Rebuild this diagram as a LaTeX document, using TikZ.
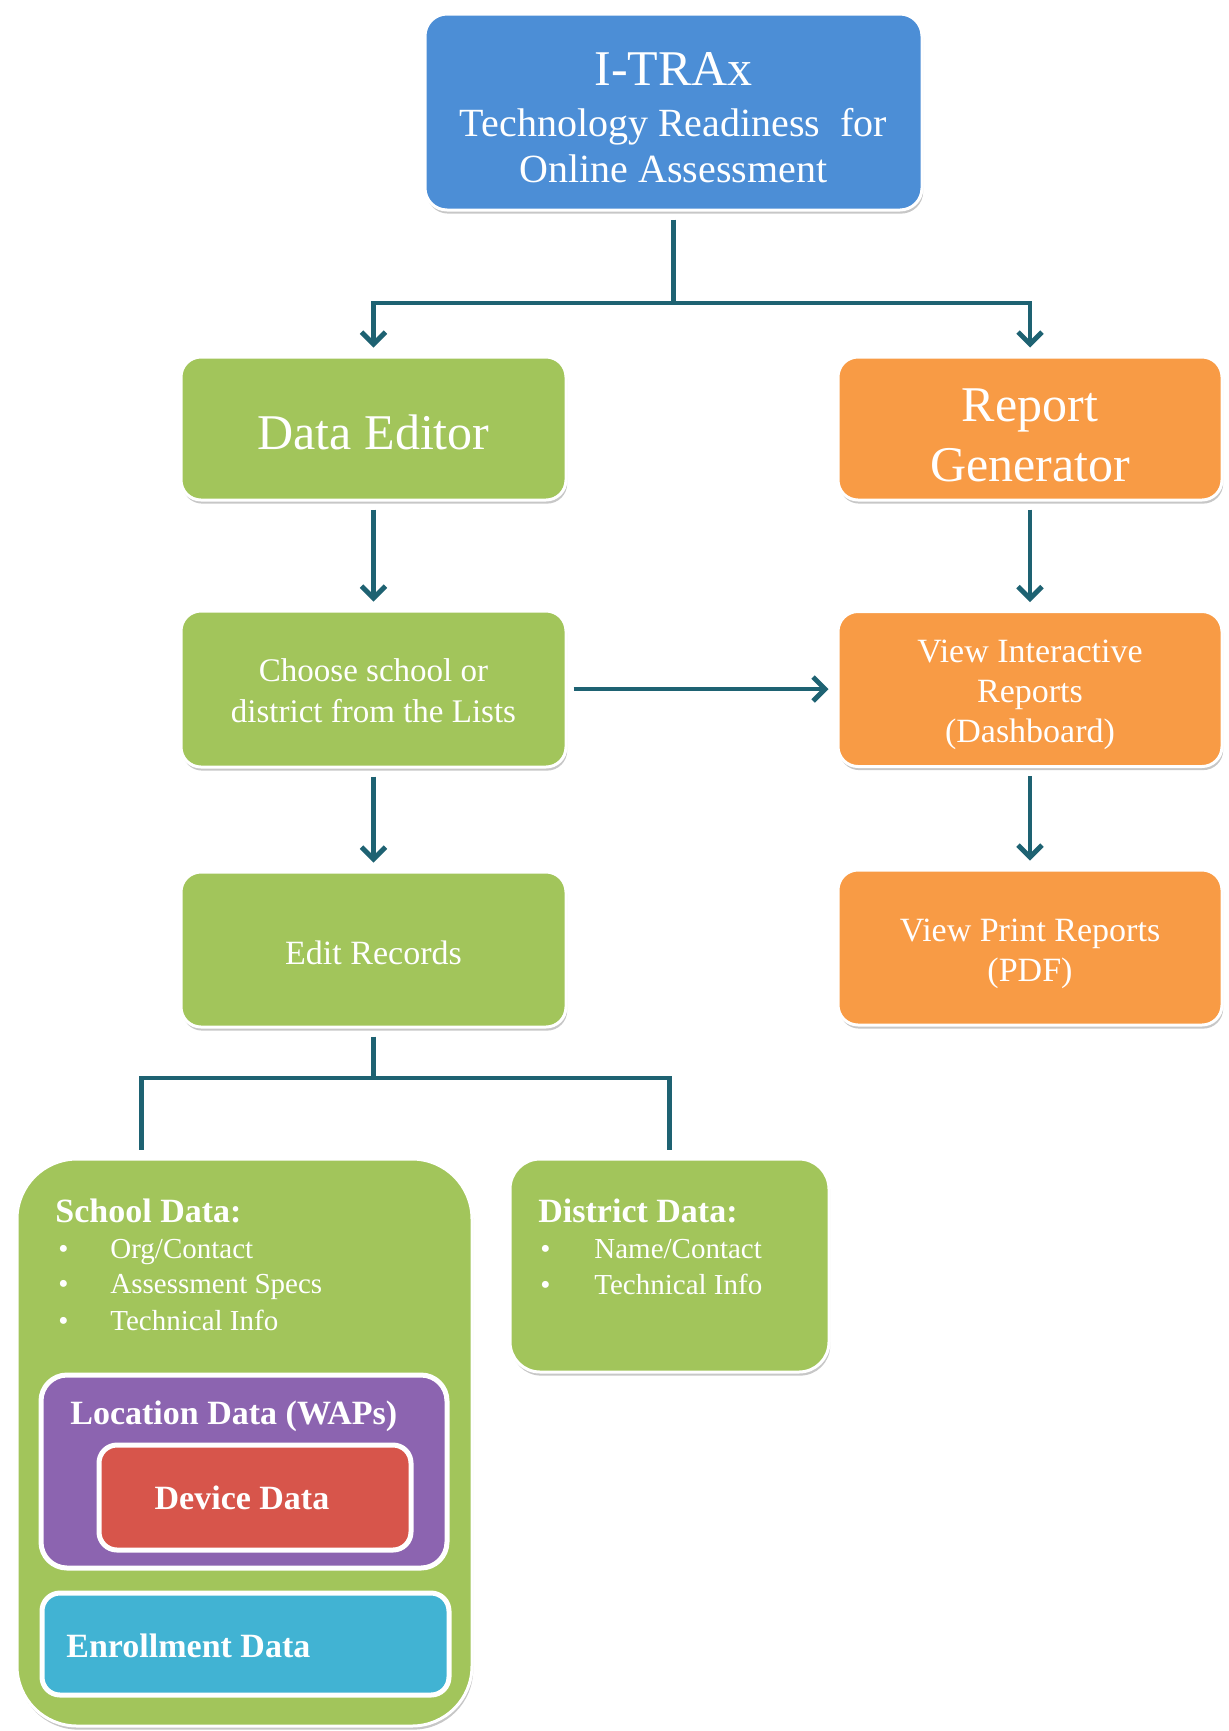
\documentclass[tikz,border=0pt]{standalone}
\usepackage{fontspec}
\setmainfont{Liberation Serif}
\usetikzlibrary{arrows.meta,shadows}
\definecolor{cblue}{HTML}{4C8ED6}
\definecolor{cgreen}{HTML}{A2C55B}
\definecolor{corange}{HTML}{F89B45}
\definecolor{cpurple}{HTML}{8C64B0}
\definecolor{cred}{HTML}{D7554B}
\definecolor{ccyan}{HTML}{41B3D3}
\definecolor{cline}{HTML}{1E6272}
\tikzset{
  box/.style={rectangle, rounded corners=10pt, draw=white, line width=1.5pt,
    inner sep=0pt,
    drop shadow={shadow xshift=0.6pt, shadow yshift=-1.8pt, opacity=0.22, fill=black}},
  bluebox/.style={box, fill=cblue},
  greenbox/.style={box, fill=cgreen},
  orangebox/.style={box, fill=corange},
  boxtext/.style={text=white, align=center, inner sep=0pt},
  innerbox/.style={rectangle, rounded corners=9pt, draw=white, line width=2.5pt, inner sep=0pt},
  conn/.style={draw=cline, line width=2.4pt},
  arr/.style={conn, -{Straight Barb[length=6pt,width=12pt]}, shorten >=4pt, shorten <=4pt},
  ttl/.style={anchor=base west, text=white, font=\fontsize{17}{20}\selectfont\bfseries, inner sep=0pt},
  itm/.style={anchor=base west, text=white, font=\fontsize{14.5}{17}\selectfont, inner sep=0pt},
}
\begin{document}
\begin{tikzpicture}[x=0.5pt,y=-0.5pt]
\useasboundingbox (0,0) rectangle (1229,1731);
\fill[white] (0,0) rectangle (1229,1731);

% top box
\node[bluebox, minimum width=248.5pt, minimum height=98pt, rounded corners=11pt] (top) at (673.5,112) {};
\node[boxtext, font=\fontsize{20}{23}\selectfont] (toptext) at ([yshift=-3pt]top.center)
  {{\fontsize{25}{25}\selectfont I-TRAx}\\[2.5pt]Technology Readiness\ \ for\\Online Assessment};

% left column
\node[greenbox, minimum width=192.5pt, minimum height=71.5pt] (de) at (373.5,428.5) {};
\node[boxtext, font=\fontsize{25}{30}\selectfont] (det) at ([yshift=-2pt]de.center) {Data Editor};
\node[greenbox, minimum width=192.5pt, minimum height=78pt] (choose) at (373.5,689) {};
\node[boxtext, font=\fontsize{16.5}{20.5}\selectfont] (chooset) at ([yshift=-1pt]choose.center)
  {Choose school or\\district from the Lists};
\node[greenbox, minimum width=192.5pt, minimum height=77.5pt] (edit) at (373.5,949.5) {};
\node[boxtext, font=\fontsize{17}{20}\selectfont] (editt) at ([yshift=-1.5pt]edit.center) {Edit Records};

% right column
\node[orangebox, minimum width=192pt, minimum height=71.5pt] (rg) at (1030,428.5) {};
\node[boxtext, font=\fontsize{25}{30}\selectfont] (rgt) at ([yshift=-3.3pt]rg.center) {Report\\Generator};
\node[orangebox, minimum width=192pt, minimum height=77.5pt] (vir) at (1030,689) {};
\node[boxtext, font=\fontsize{17}{20}\selectfont] (virt) at ([yshift=-3pt]vir.center)
  {View Interactive\\Reports\\(Dashboard)};
\node[orangebox, minimum width=192pt, minimum height=77.5pt] (vpr) at (1030,947.5) {};
\node[boxtext, font=\fontsize{17}{20}\selectfont] (vprt) at ([yshift=-3pt]vpr.center)
  {View Print Reports\\(PDF)};

% school data container
\node[greenbox, minimum width=227.5pt, minimum height=283.5pt, rounded corners=30pt]
  (school) at (244.5,1442.5) {};
\node[ttl] (stitle) at (55,1222) {School Data:};
\node[itm] (sb1) at (58,1258) {•};
\node[itm] (si1) at (110,1258) {Org/Contact};
\node[itm] (sb2) at (58,1293) {•};
\node[itm] (si2) at (110,1293) {Assessment Specs};
\node[itm] (sb3) at (58,1330) {•};
\node[itm] (si3) at (110,1330) {Technical Info};

\node[innerbox, fill=cpurple, minimum width=203pt, minimum height=96.5pt, rounded corners=13pt]
  (loc) at (244,1471.5) {};
\node[ttl] (ltitle) at (70,1424) {Location Data (WAPs)};
\node[innerbox, fill=cred, minimum width=156pt, minimum height=52.5pt,
      text=white, font=\fontsize{17}{20}\selectfont\bfseries] (dev) at (255,1497.5)
  {\hspace*{-13pt}Device Data};

\node[innerbox, fill=ccyan, minimum width=203.5pt, minimum height=51pt] (enr) at (245.5,1644) {};
\node[ttl] (etitle) at (66,1657) {Enrollment Data};

% district data
\node[greenbox, minimum width=159.5pt, minimum height=106.5pt, rounded corners=15pt]
  (district) at (669.5,1265.5) {};
\node[ttl] (dtitle) at (538,1222) {District Data:};
\node[itm] (db1) at (540,1258) {•};
\node[itm] (di1) at (594,1258) {Name/Contact};
\node[itm] (db2) at (540,1294) {•};
\node[itm] (di2) at (594,1294) {Technical Info};

% connectors
\coordinate (split) at (top.south |- 0,303);
\draw[conn, shorten <=4pt] (top.south) -- (split);
\draw[arr, shorten <=0pt] (split) -| (de.north);
\draw[arr, shorten <=0pt] (split) -| (rg.north);
\draw[arr] (de.south) -- (choose.north);
\draw[arr] (choose.south) -- (edit.north);
\draw[arr] (rg.south) -- (vir.north);
\draw[arr] (vir.south) -- (vpr.north);
\draw[arr, shorten <=3pt] (choose.east) -- (vir.west);

\coordinate (split2) at (edit.south |- 0,1078);
\draw[conn, shorten <=4pt] (edit.south) -- (split2);
\draw[conn, shorten >=4pt] (split2) -| ([xshift=63pt]school.north west);
\draw[conn, shorten >=4pt] (split2) -| (district.north);
\end{tikzpicture}
\end{document}
